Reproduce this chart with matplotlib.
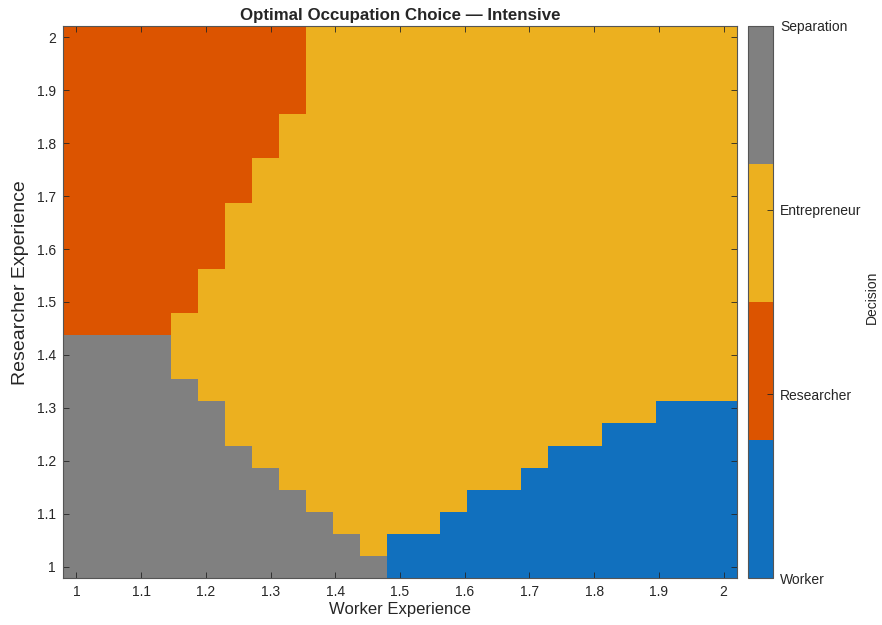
import numpy as np
import matplotlib
matplotlib.use('Agg')
import matplotlib.pyplot as plt
from matplotlib.colors import ListedColormap

plt.rcParams['font.family'] = ['Liberation Sans', 'DejaVu Sans']

# grid (25 x 25) for both experience axes
worker_exp = np.linspace(1, 2, 25)
researcher_exp = np.linspace(1, 2, 25)

# decision codes
decisions = ['Worker', 'Researcher', 'Entrepreneur', 'Separation']

# per column (worker experience): number of rows from the bottom that are separation / worker,
# and first row index where researcher starts (25 = none)
sep_rows = [11, 11, 11, 11, 9, 8, 6, 5, 4, 3, 2, 1, 0, 0, 0, 0, 0, 0, 0, 0, 0, 0, 0, 0, 0]
worker_rows = [0, 0, 0, 0, 0, 0, 0, 0, 0, 0, 0, 0, 2, 2, 3, 4, 4, 5, 6, 6, 7, 7, 8, 8, 8]
res_start = [11, 11, 11, 11, 12, 14, 17, 19, 21, 25, 25, 25, 25, 25, 25, 25, 25, 25, 25, 25, 25, 25, 25, 25, 25]

# build the decision matrix (rows = researcher exp, cols = worker exp)
Z = np.full((len(researcher_exp), len(worker_exp)), 3)
for i in range(len(worker_exp)):
    Z[:sep_rows[i], i] = 4
    Z[:worker_rows[i], i] = 1
    Z[res_start[i]:, i] = 2

colores = ['#1170BE', '#DC5400', '#ECB01F', '#808080']
cmap = ListedColormap(colores)

fig = plt.figure(figsize=(8.82, 6.25), dpi=100)
ax = fig.add_axes([63 / 882, 1 - 578 / 625, 674 / 882, 552 / 625])
cax = fig.add_axes([748 / 882, 1 - 578 / 625, 25 / 882, 552 / 625])

malla = ax.pcolormesh(worker_exp, researcher_exp, Z, cmap=cmap, vmin=1, vmax=4, shading='nearest')

texto = '#262626'
ax.set_xticks(np.arange(1, 2.01, 0.1))
ax.set_yticks(np.arange(1, 2.01, 0.1))
ax.set_xticklabels(['1', '1.1', '1.2', '1.3', '1.4', '1.5', '1.6', '1.7', '1.8', '1.9', '2'])
ax.set_yticklabels(['1', '1.1', '1.2', '1.3', '1.4', '1.5', '1.6', '1.7', '1.8', '1.9', '2'])
ax.tick_params(direction='in', top=True, right=True, length=4, width=0.6,
               labelsize=10, colors=texto, labelcolor=texto, pad=5)
for s in ax.spines.values():
    s.set_color('#555555')
    s.set_linewidth(0.8)

ax.set_xlabel('Worker Experience', fontsize=12, color=texto, labelpad=2)
ax.set_ylabel('Researcher Experience', fontsize=14, color=texto)
ax.yaxis.set_label_coords(-0.051, 0.536)
ax.set_title('Optimal Occupation Choice — Intensive', fontsize=12.2, fontweight='bold', color=texto, pad=4)

cb = fig.colorbar(malla, cax=cax, ticks=[1, 2, 3, 4])
cb.ax.set_yticklabels(decisions)
cb.ax.tick_params(direction='in', length=4, width=0.6, labelsize=10, colors=texto, labelcolor=texto, pad=5)
cb.outline.set_edgecolor('#555555')
cb.outline.set_linewidth(0.8)
fig.text(872 / 882, 1 - 297 / 625, 'Decision', rotation=90, ha='center', va='center',
         fontsize=10, color=texto)

fig.savefig('out.png', dpi=100)
